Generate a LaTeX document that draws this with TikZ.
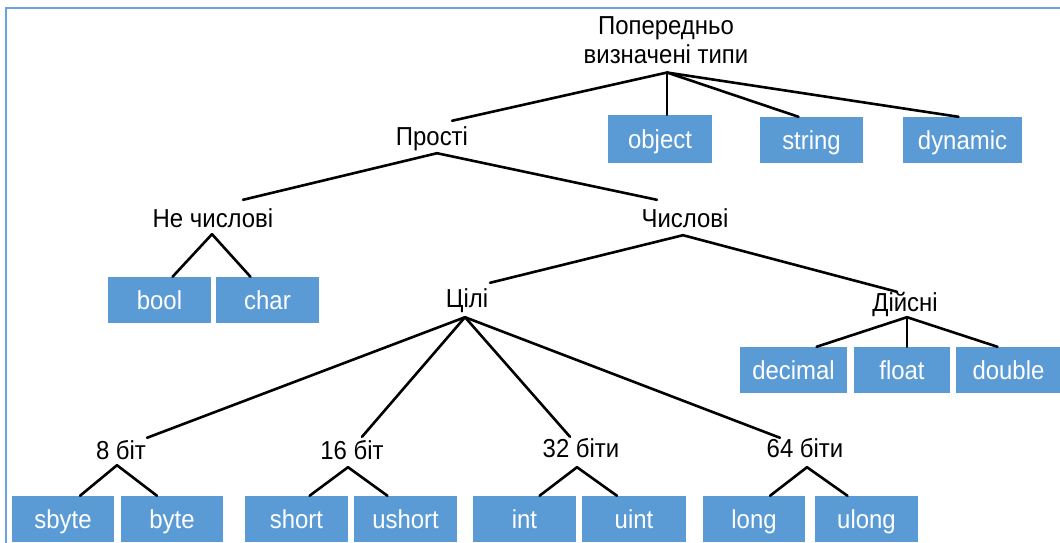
\documentclass[tikz,border=0pt]{standalone}
\usepackage{fontspec}
\setmainfont[FakeStretch=0.92]{Liberation Sans}
\usetikzlibrary{calc}
\definecolor{boxblue}{RGB}{91,155,213}
\definecolor{frameblue}{RGB}{108,163,224}
\tikzset{
  lbl/.style={inner sep=0pt, text height=18pt, text depth=5pt, font=\fontsize{26}{28}\selectfont, text=black},
  tbox/.style={fill=boxblue, text=white, inner sep=0pt, font=\fontsize{26}{28}\selectfont, text height=21pt, text depth=3pt},
  conn/.style={draw=black, line width=2.6pt, line cap=round},
}
\begin{document}
\begin{tikzpicture}[x=1pt,y=-1pt]
\useasboundingbox (0,0) rectangle (1060,542);
% frame
\draw[frameblue, line width=2.5pt] (6,545) -- (6,8) -- (1063,8);
% root
\node[inner sep=0pt, align=center, font=\fontsize{26}{28.5}\selectfont] (root) at (666,40) {Попередньо\\визначені типи};
% text labels (center y = baseline - 6.5)
\node[lbl] (prosti) at (432,138.5) {Прості};
\node[lbl] (nechysl) at (213,220.5) {Не числові};
\node[lbl] (chysl) at (685,220.5) {Числові};
\node[lbl] (cili) at (467,300.5) {Цілі};
\node[lbl] (diysni) at (905,304.5) {Дійсні};
\node[lbl] (b8) at (121,452.5) {8 біт};
\node[lbl] (b16) at (352,452.5) {16 біт};
\node[lbl] (b32) at (581,450.5) {32 біти};
\node[lbl] (b64) at (805,450.5) {64 біти};
% boxes
\node[tbox, minimum width=104pt, minimum height=48pt] (object) at (660,139) {object};
\node[tbox, minimum width=103pt, minimum height=46pt] (string) at (811.5,140) {string};
\node[tbox, minimum width=119pt, minimum height=46pt] (dynamic) at (962.5,140) {dynamic};
\node[tbox, minimum width=103pt, minimum height=46pt] (bool) at (159.5,300) {bool};
\node[tbox, minimum width=103pt, minimum height=46pt] (char) at (267.5,300) {char};
\node[tbox, minimum width=107pt, minimum height=46pt] (decimal) at (793.5,370) {decimal};
\node[tbox, minimum width=96pt, minimum height=46pt] (float) at (902,370) {float};
\node[tbox, minimum width=105pt, minimum height=46pt] (double) at (1008.5,370) {double};
\node[tbox, minimum width=102pt, minimum height=46pt] (sbyte) at (63,519) {sbyte};
\node[tbox, minimum width=102pt, minimum height=46pt] (byte) at (172,519) {byte};
\node[tbox, minimum width=103pt, minimum height=46pt] (short) at (296.5,519) {short};
\node[tbox, minimum width=103pt, minimum height=46pt] (ushort) at (405.5,519) {ushort};
\node[tbox, minimum width=103pt, minimum height=46pt] (int) at (524.5,519) {int};
\node[tbox, minimum width=104pt, minimum height=46pt] (uint) at (634,519) {uint};
\node[tbox, minimum width=102pt, minimum height=46pt] (long) at (754,519) {long};
\node[tbox, minimum width=103pt, minimum height=46pt] (ulong) at (866.5,519) {ulong};
% vertex coordinates
\coordinate (root-v) at ($(root.south)+(1,9)$);
\coordinate (prosti-v) at ($(prosti.south)+(5,3)$);
\coordinate (nechysl-v) at ($(nechysl.south)+(-1,2)$);
\coordinate (chysl-v) at ($(chysl.south)+(-2,3)$);
\coordinate (cili-v) at ($(cili.south)+(-2,5)$);
\coordinate (diysni-v) at ($(diysni.south)+(2,1)$);
\coordinate (b8-v) at ($(b8.south)+(-4,1)$);
\coordinate (b16-v) at ($(b16.south)+(-4,3)$);
\coordinate (b32-v) at ($(b32.south)+(-4,5)$);
\coordinate (b64-v) at ($(b64.south)+(2,5)$);
% connectors
\draw[conn] (root-v) -- ($(prosti.north)+(20,-6)$);
\draw[conn] (root-v) -- ($(object.north)+(7,0)$);
\draw[conn] (root-v) -- ($(string.north)+(-13,0)$);
\draw[conn] (root-v) -- ($(dynamic.north)+(-4,0)$);
\draw[conn] (prosti-v) -- ($(nechysl.north)+(30,-9)$);
\draw[conn] (prosti-v) -- ($(chysl.north)+(-28,-9)$);
\draw[conn] (nechysl-v) -- ($(bool.north)+(13,0)$);
\draw[conn] (nechysl-v) -- ($(char.north)+(-17,0)$);
\draw[conn] (chysl-v) -- ($(cili.north)+(23,-6)$);
\draw[conn] (chysl-v) -- ($(diysni.north)+(-8,-1)$);
\draw[conn] (diysni-v) -- ($(decimal.north)+(23,0)$);
\draw[conn] (diysni-v) -- ($(float.north)+(5,0)$);
\draw[conn] (diysni-v) -- ($(double.north)+(-11,0)$);
\draw[conn] (cili-v) -- ($(b8.north)+(26,-3)$);
\draw[conn] (cili-v) -- ($(b16.north)+(10,-4)$);
\draw[conn] (cili-v) -- ($(b32.north)+(-11,-2)$);
\draw[conn] (cili-v) -- ($(b64.north)+(-25,-1)$);
\draw[conn] (b8-v) -- ($(sbyte.north)+(17,0)$);
\draw[conn] (b8-v) -- ($(byte.north)+(-15,0)$);
\draw[conn] (b16-v) -- ($(short.north)+(13,0)$);
\draw[conn] (b16-v) -- ($(ushort.north)+(-18,0)$);
\draw[conn] (b32-v) -- ($(int.north)+(15,0)$);
\draw[conn] (b32-v) -- ($(uint.north)+(-17,0)$);
\draw[conn] (b64-v) -- ($(long.north)+(16,0)$);
\draw[conn] (b64-v) -- ($(ulong.north)+(-19,0)$);
\end{tikzpicture}
\end{document}
